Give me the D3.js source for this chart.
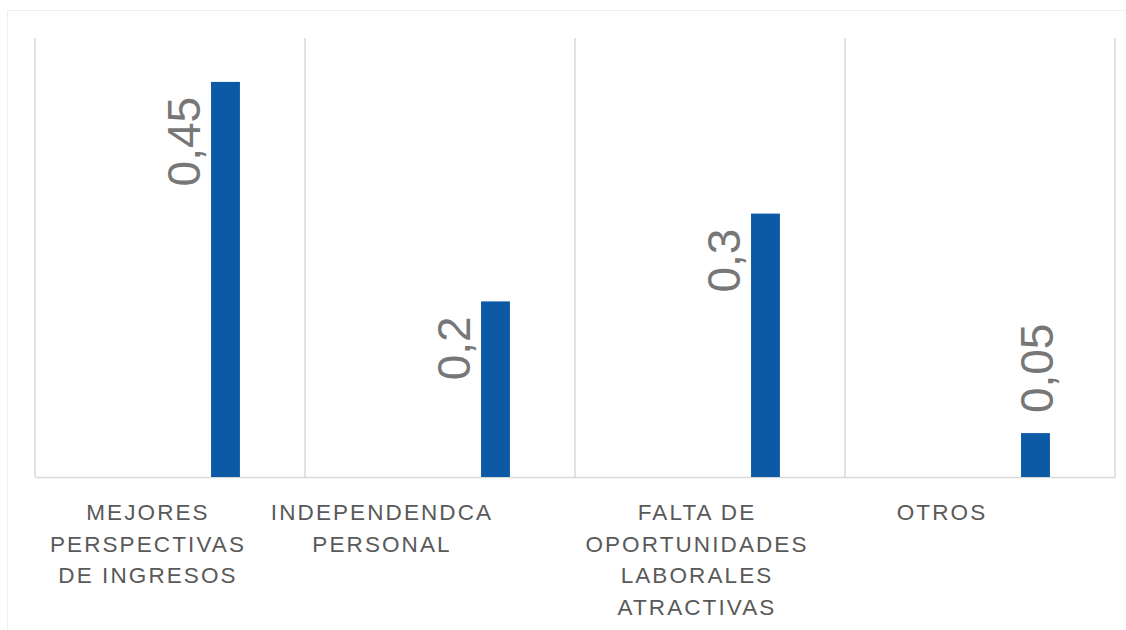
<!DOCTYPE html>
<html>
<head>
<meta charset="utf-8">
<script src="https://cdnjs.cloudflare.com/ajax/libs/d3/7.8.5/d3.min.js"></script>
<style>
  html, body { margin: 0; padding: 0; background: #fff; }
  svg { display: block; }
</style>
</head>
<body>
<svg></svg>
<script>
// chart data
let categories = [
  'MEJORES\nPERSPECTIVAS\nDE INGRESOS',
  'INDEPENDENDCA\nPERSONAL',
  'FALTA DE\nOPORTUNIDADES\nLABORALES\nATRACTIVAS',
  'OTROS'
];
let values = [0.45, 0.2, 0.3, 0.05];
let valueLabels = ['0,45', '0,2', '0,3', '0,05'];

// layout / style config
let config = {
  'svg': { width: 1126, height: 630 },
  'plot': { x: 35, y: 38, width: 1080, height: 439 }
};
let labelPlacement = ['left', 'left', 'left', 'above'];
let labelShift = [-22, -58, -13, -38];
let barColor = '#0c5aa6';
let gridColor = '#d9d9d9';

let svg = d3.select('svg')
  .attr('width', config.svg.width)
  .attr('height', config.svg.height);

// faint outer frame
svg.append('rect')
  .attr('x', 7.5).attr('y', 10.5)
  .attr('width', 1200).attr('height', 700)
  .attr('fill', 'none')
  .attr('stroke', '#efefef')
  .attr('stroke-width', 1);

let x = d3.scaleBand()
  .domain(categories)
  .range([0, config.plot.width])
  .padding(0);

let y = d3.scaleLinear()
  .domain([0, 0.5])
  .range([config.plot.height, 0]);

// position of the bar inside its category band
let inner = d3.scaleLinear()
  .domain([0, 1])
  .range([0, x.bandwidth()]);
let barStart = 0.652, barEnd = 0.759;

let plot = svg.append('g')
  .attr('transform', translate(config.plot.x, config.plot.y));

// vertical grid lines at category boundaries
let bounds = categories.map(c => x(c)).concat([config.plot.width]);
plot.append('g')
  .selectAll('line')
  .data(bounds)
  .enter()
  .append('line')
    .attr('x1', d => d).attr('x2', d => d)
    .attr('y1', 0).attr('y2', config.plot.height)
    .attr('stroke', gridColor)
    .attr('stroke-width', 1.5);

// baseline axis
let gx = plot.append('g')
  .attr('transform', translate(0, config.plot.height))
  .call(d3.axisBottom(x).tickSize(0).tickFormat(''));
gx.select('.domain').attr('stroke', gridColor).attr('stroke-width', 1.5);

// bars
plot.append('g')
  .selectAll('rect')
  .data(values)
  .enter()
  .append('rect')
    .attr('x', (d, i) => x(categories[i]) + inner(barStart))
    .attr('width', inner(barEnd) - inner(barStart))
    .attr('y', d => y(d))
    .attr('height', d => y(0) - y(d))
    .attr('fill', barColor);

// value labels (rotated)
plot.append('g')
  .selectAll('text')
  .data(values)
  .enter()
  .append('text')
    .attr('transform', function(d, i) {
      let bx = x(categories[i]) + inner(barStart);
      let bw = inner(barEnd) - inner(barStart);
      if (labelPlacement[i] === 'above') {
        return translate(bx + bw + 3, y(d) - 20) + ' rotate(-90)';
      }
      return translate(bx - 11, y(d) + 15) + ' rotate(-90)';
    })
    .attr('text-anchor', (d, i) => labelPlacement[i] === 'above' ? 'start' : 'end')
    .attr('font-family', '"Liberation Sans", Arial, sans-serif')
    .attr('font-size', 46)
    .attr('fill', '#777777')
    .text((d, i) => valueLabels[i]);

// category labels
let catLabels = plot.append('g')
  .selectAll('text')
  .data(categories)
  .enter()
  .append('text')
    .attr('x', (d, i) => x(d) + x.bandwidth() / 2 + labelShift[i])
    .attr('y', config.plot.height + 43)
    .attr('text-anchor', 'middle')
    .attr('font-family', '"Liberation Sans", Arial, sans-serif')
    .attr('font-size', 22.5)
    .attr('letter-spacing', 2.1)
    .attr('fill', '#595959');

catLabels.each(function(d, i) {
  let lines = d.split('\n');
  let t = d3.select(this);
  let cx = x(d) + x.bandwidth() / 2 + labelShift[i];
  lines.forEach(function(line, k) {
    t.append('tspan')
      .attr('x', cx)
      .attr('dy', k === 0 ? 0 : 31.5)
      .text(line);
  });
});

function translate(x, y) {
  return 'translate(' + x + ',' + y + ')';
}
</script>
</body>
</html>
